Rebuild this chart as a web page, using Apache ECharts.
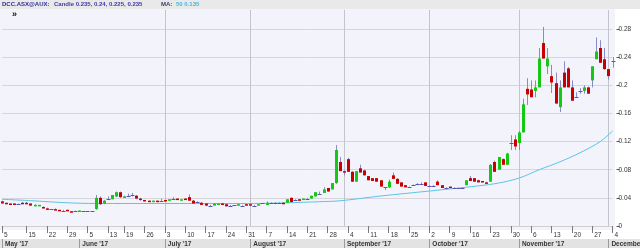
<!DOCTYPE html>
<html>
<head>
<meta charset="utf-8">
<script src="https://cdn.jsdelivr.net/npm/echarts@6/dist/echarts.min.js"></script>
<style>
html, body { margin: 0; padding: 0; background: #fff; }
#chart { width: 640px; height: 248px; }
</style>
</head>
<body>
<div id="chart"></div>
<script>
// trading days, May 5 - Dec 4 2017 (ASX)
const dates = [
  '2017-05-05', '2017-05-08', '2017-05-09', '2017-05-10', '2017-05-11', '2017-05-12', '2017-05-15', '2017-05-16', '2017-05-17', '2017-05-18',
  '2017-05-19', '2017-05-22', '2017-05-23', '2017-05-24', '2017-05-25', '2017-05-26', '2017-05-29', '2017-05-30', '2017-05-31',
  '2017-06-01', '2017-06-02', '2017-06-05', '2017-06-06', '2017-06-07', '2017-06-08', '2017-06-09', '2017-06-13', '2017-06-14', '2017-06-15',
  '2017-06-16', '2017-06-19', '2017-06-20', '2017-06-21', '2017-06-22', '2017-06-23', '2017-06-26', '2017-06-27', '2017-06-28', '2017-06-29', '2017-06-30',
  '2017-07-03', '2017-07-04', '2017-07-05', '2017-07-06', '2017-07-07', '2017-07-10', '2017-07-11', '2017-07-12', '2017-07-13', '2017-07-14',
  '2017-07-17', '2017-07-18', '2017-07-19', '2017-07-20', '2017-07-21', '2017-07-24', '2017-07-25', '2017-07-26', '2017-07-27', '2017-07-28', '2017-07-31',
  '2017-08-01', '2017-08-02', '2017-08-03', '2017-08-04', '2017-08-07', '2017-08-08', '2017-08-09', '2017-08-10', '2017-08-11', '2017-08-14',
  '2017-08-15', '2017-08-16', '2017-08-17', '2017-08-18', '2017-08-21', '2017-08-22', '2017-08-23', '2017-08-24', '2017-08-25', '2017-08-28',
  '2017-08-29', '2017-08-30', '2017-08-31',
  '2017-09-01', '2017-09-04', '2017-09-05', '2017-09-06', '2017-09-07', '2017-09-08', '2017-09-11', '2017-09-12', '2017-09-13', '2017-09-14',
  '2017-09-15', '2017-09-18', '2017-09-19', '2017-09-20', '2017-09-21', '2017-09-22', '2017-09-25', '2017-09-26', '2017-09-27', '2017-09-28', '2017-09-29',
  '2017-10-02', '2017-10-03', '2017-10-04', '2017-10-05', '2017-10-06', '2017-10-09', '2017-10-10', '2017-10-11', '2017-10-12', '2017-10-13',
  '2017-10-16', '2017-10-17', '2017-10-18', '2017-10-19', '2017-10-20', '2017-10-23', '2017-10-24', '2017-10-25', '2017-10-26', '2017-10-27',
  '2017-10-30', '2017-10-31',
  '2017-11-01', '2017-11-02', '2017-11-03', '2017-11-06', '2017-11-07', '2017-11-08', '2017-11-09', '2017-11-10', '2017-11-13', '2017-11-14',
  '2017-11-15', '2017-11-16', '2017-11-17', '2017-11-20', '2017-11-21', '2017-11-22', '2017-11-23', '2017-11-24', '2017-11-27', '2017-11-28',
  '2017-11-29', '2017-11-30',
  '2017-12-01', '2017-12-04'
]

const open = [
  .035, .033, .032, .032, .031, .033, .033, .032, .029, .029, .027, .025, .024, .024, .023, .022, .023, .021, .021, .020,
  .022, .022, .022, .024, .040, .032, .039, .038, .042, .048, .041, .042, .044, .043, .039, .037, .036, .035, .036, .036,
  .037, .037, .039, .039, .037, .039, .041, .036, .034, .033, .032, .029, .029, .030, .032, .031, .029, .030, .029, .029,
  .031, .031, .029, .030, .032, .030, .033, .033, .033, .033, .033, .040, .037, .038, .037, .039, .039, .042, .046, .047,
  .054, .052, .061, .091, .078, .095, .077, .063, .082, .079, .071, .068, .068, .065, .055, .055, .072, .067, .062, .058,
  .055, .058, .059, .060, .062, .057, .057, .063, .058, .054, .056, .054, .054, .054, .058, .068, .068, .065, .064, .062,
  .063, .091, .080, .095, .087, .118, .123, .118, .133, .195, .194, .192, .197, .260, .227, .213, .203, .169, .218, .224,
  .197, .184, .192, .192, .197, .207, .237, .253, .237, .223, .235
]
const high = [
  .036, .033, .032, .032, .032, .034, .034, .032, .031, .030, .028, .026, .024, .025, .023, .023, .023, .021, .022, .022,
  .022, .022, .022, .044, .042, .037, .042, .044, .049, .049, .043, .046, .047, .044, .040, .037, .036, .036, .036, .039,
  .037, .038, .041, .039, .038, .039, .045, .037, .035, .034, .032, .030, .032, .032, .033, .031, .030, .030, .031, .030,
  .031, .032, .030, .031, .032, .035, .034, .034, .034, .034, .038, .041, .038, .038, .039, .040, .043, .048, .049, .055,
  .054, .061, .115, .098, .079, .097, .078, .078, .087, .080, .071, .068, .068, .065, .055, .066, .076, .068, .062, .058,
  .056, .059, .061, .062, .062, .058, .058, .065, .058, .055, .056, .055, .054, .055, .065, .071, .068, .066, .064, .063,
  .088, .093, .098, .096, .104, .129, .129, .135, .181, .210, .207, .207, .253, .283, .253, .229, .218, .207, .234, .226,
  .207, .190, .196, .200, .198, .227, .268, .264, .253, .223, .240
]
const low = [
  .032, .031, .031, .031, .030, .032, .031, .029, .029, .029, .025, .024, .024, .023, .022, .021, .021, .020, .020, .020,
  .022, .022, .022, .023, .030, .031, .037, .038, .041, .040, .040, .041, .042, .038, .036, .035, .035, .035, .035, .035,
  .035, .036, .038, .038, .037, .037, .036, .032, .033, .030, .028, .028, .029, .030, .031, .028, .028, .030, .029, .029,
  .029, .029, .028, .030, .032, .030, .033, .031, .033, .032, .033, .034, .036, .036, .037, .038, .039, .042, .044, .047,
  .049, .052, .060, .078, .072, .077, .063, .063, .076, .072, .065, .064, .063, .056, .051, .054, .067, .060, .056, .055,
  .054, .057, .058, .059, .057, .056, .056, .058, .054, .053, .054, .054, .053, .054, .058, .064, .063, .062, .062, .061,
  .063, .077, .080, .087, .087, .108, .108, .108, .133, .172, .183, .183, .197, .238, .216, .189, .174, .162, .197, .197,
  .178, .182, .188, .188, .188, .197, .237, .232, .222, .208, .225
]
const close = [
  .032, .031, .031, .031, .031, .032, .031, .029, .030, .030, .025, .024, .024, .023, .022, .022, .021, .020, .021, .022,
  .022, .022, .022, .040, .031, .036, .039, .044, .048, .041, .042, .042, .044, .039, .037, .035, .035, .036, .035, .036,
  .036, .038, .039, .038, .038, .037, .036, .032, .034, .030, .029, .029, .032, .032, .031, .028, .029, .030, .031, .029,
  .029, .029, .029, .031, .032, .033, .033, .033, .033, .032, .038, .034, .037, .036, .039, .039, .043, .048, .046, .052,
  .049, .061, .108, .078, .076, .077, .063, .078, .076, .072, .065, .064, .063, .056, .055, .063, .067, .060, .056, .055,
  .055, .058, .059, .060, .057, .057, .057, .058, .054, .054, .054, .054, .054, .054, .065, .064, .063, .062, .062, .061,
  .087, .077, .098, .087, .103, .118, .113, .133, .173, .187, .183, .197, .238, .238, .238, .204, .174, .197, .197, .197,
  .178, .184, .192, .197, .188, .227, .248, .232, .223, .213, .235
]

// 50 day moving average
const maDates = ['2017-05-05', '2017-05-16', '2017-05-29', '2017-06-07', '2017-07-03', '2017-07-24', '2017-08-02', '2017-08-14', '2017-08-24', '2017-08-31',
  '2017-09-14', '2017-10-02', '2017-10-18', '2017-10-25', '2017-11-01', '2017-11-08', '2017-11-15', '2017-11-22', '2017-11-29', '2017-12-04']
const maValues = [.038, .036, .033, .032, .032, .032, .032, .033, .0345, .0358,
  .0426, .0497, .057, .061, .068, .080, .091, .104, .120, .135]

const weekStarts = ['2017-05-05', '2017-05-15', '2017-05-22', '2017-05-29', '2017-06-05', '2017-06-13', '2017-06-19', '2017-06-26',
  '2017-07-03', '2017-07-10', '2017-07-17', '2017-07-24', '2017-07-31', '2017-08-07', '2017-08-14', '2017-08-21', '2017-08-28',
  '2017-09-04', '2017-09-11', '2017-09-18', '2017-09-25', '2017-10-02', '2017-10-09', '2017-10-16', '2017-10-23', '2017-10-30',
  '2017-11-06', '2017-11-13', '2017-11-20', '2017-11-27', '2017-12-04']
const monthStarts = ['2017-05-05', '2017-06-01', '2017-07-03', '2017-08-01', '2017-09-01', '2017-10-02', '2017-11-01', '2017-12-01']
const monthLabels = ["May '17", "June '17", "July '17", "August '17", "September '17", "October '17", "November '17", "December '17"]
const gridLineDates = ['2017-07-03', '2017-08-01', '2017-09-01', '2017-10-02', '2017-11-01', '2017-12-01']
const yTicks = [0, 0.04, 0.08, 0.12, 0.16, 0.2, 0.24, 0.28]

const chart = echarts.init(document.getElementById('chart'))
const last = dates.length - 1
const font = 'Liberation Sans'

const candles = dates.map((d, i) => [i, open[i], high[i], low[i], close[i]])
const isWeek = (i) => weekStarts.indexOf(dates[i]) >= 0
const isMonth = (i) => monthStarts.indexOf(dates[i]) >= 0
const isGrid = (i) => gridLineDates.indexOf(dates[i]) >= 0

function renderCandle (params, api) {
  const i = api.value(0)
  const o = api.value(1)
  const h = api.value(2)
  const l = api.value(3)
  const c = api.value(4)
  const x = Math.round(api.coord([i, o])[0])
  const yo = api.coord([i, o])[1]
  const yc = api.coord([i, c])[1]
  const yh = api.coord([i, h])[1]
  const yl = api.coord([i, l])[1]
  const children = [{
    type: 'line',
    shape: { x1: x + 0.5, y1: yh, x2: x + 0.5, y2: yl },
    style: { stroke: '#8a8ac6', lineWidth: 1 }
  }]
  if (o === c) {
    const y = Math.round(yo) + 0.5
    children.push({
      type: 'line',
      shape: { x1: x - 1.5, y1: y, x2: x + 2.5, y2: y },
      style: { stroke: '#5656b0', lineWidth: 1 }
    })
  } else {
    children.push({
      type: 'rect',
      shape: { x: x - 1, y: Math.min(yo, yc), width: 3, height: Math.max(Math.abs(yo - yc), 1.5) },
      style: { fill: c > o ? '#14c814' : '#c80000' }
    })
  }
  return { type: 'group', children: children }
}

chart.setOption({
  animation: false,
  textStyle: { fontFamily: font },
  grid: { left: 2, top: 10, width: 610.5, height: 216, outerBoundsMode: 'none', containLabel: false },
  xAxis: [{
    type: 'category',
    data: dates,
    boundaryGap: false,
    position: 'bottom',
    offset: 4,
    axisLine: { show: true, lineStyle: { color: '#d0d0d0', width: 1 } },
    axisTick: { show: true, interval: isWeek, length: 7, lineStyle: { color: '#777' } },
    axisLabel: {
      interval: isWeek,
      formatter: (v) => String(+v.slice(8)),
      align: 'left',
      margin: 2,
      padding: [0, 0, 0, 2],
      fontSize: 6.5,
      color: '#333'
    },
    splitLine: { show: true, interval: isGrid, lineStyle: { color: '#c4c4cc', width: 1 } }
  }, {
    type: 'category',
    data: dates,
    boundaryGap: false,
    position: 'bottom',
    offset: 13,
    axisLine: { show: false },
    axisTick: { show: true, interval: isMonth, length: 9, lineStyle: { color: '#9a9a9a' } },
    axisLabel: {
      interval: isMonth,
      formatter: (v) => monthLabels[monthStarts.indexOf(v)],
      align: 'left',
      margin: 1.5,
      padding: [0, 0, 0, 3],
      fontSize: 6.5,
      fontWeight: 'bold',
      color: '#333'
    },
    splitLine: { show: false }
  }],
  yAxis: {
    type: 'value',
    position: 'right',
    offset: 4,
    min: 0,
    max: 0.307,
    interval: 0.04,
    axisLine: { show: false },
    axisTick: { show: true, length: 3, customValues: yTicks, lineStyle: { color: '#555' } },
    axisLabel: {
      customValues: yTicks,
      showMinLabel: true,
      showMaxLabel: true,
      margin: 2,
      fontSize: 6.5,
      color: '#333',
      formatter: (v) => String(+(+v).toFixed(2))
    },
    splitLine: { show: true, lineStyle: { color: '#d6d6dc', width: 1 } }
  },
  graphic: [
    { type: 'rect', z: -10, silent: true, shape: { x: 0, y: 9, width: 615, height: 221 }, style: { fill: '#f3f3fb' } },
    { type: 'rect', z: -10, silent: true, shape: { x: 0, y: 239, width: 640, height: 9 }, style: { fill: '#e3e3e3' } },
    { type: 'rect', z: 10, silent: true, shape: { x: 0, y: 0, width: 640, height: 9 }, style: { fill: '#e9e9e9' } },
    {
      type: 'text', z: 11, silent: true, left: 2, top: 1.5,
      style: { text: 'DCC.ASX@AUX:', fill: '#2c2c9c', font: 'bold 6px ' + font }
    },
    {
      type: 'text', z: 11, silent: true, left: 54, top: 1.5,
      style: { text: 'Candle ' + [open[last], high[last], low[last], close[last]].join(', '), fill: '#3a3aa6', font: 'bold 6px ' + font }
    },
    {
      type: 'text', z: 11, silent: true, left: 161, top: 1.5,
      style: { text: 'MA:', fill: '#3a3a6a', font: 'bold 6px ' + font }
    },
    {
      type: 'text', z: 11, silent: true, left: 176, top: 1.5,
      style: { text: '50 ' + maValues[maValues.length - 1], fill: '#3cb8e8', font: 'bold 6px ' + font }
    },
    {
      type: 'text', z: 11, silent: true, left: 12, top: 10,
      style: { text: '»', fill: '#111', font: 'bold 9px ' + font }
    }
  ],
  series: [{
    name: 'MA',
    type: 'line',
    data: maDates.map((d, k) => [d, maValues[k]]),
    smooth: 0.3,
    showSymbol: false,
    z: 3,
    lineStyle: { color: '#5cc4e6', width: 1 }
  }, {
    name: 'Candle',
    type: 'custom',
    renderItem: renderCandle,
    encode: { x: 0, y: [1, 2, 3, 4] },
    data: candles,
    z: 4
  }]
})
</script>
</body>
</html>
